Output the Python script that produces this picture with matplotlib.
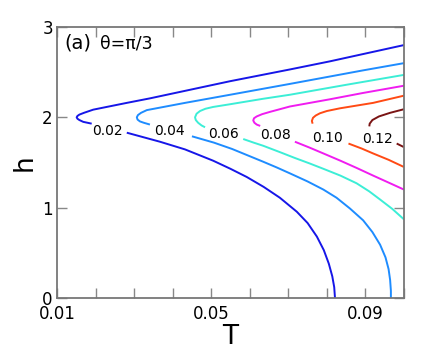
import matplotlib
matplotlib.use('Agg')
import matplotlib.pyplot as plt

# contour levels and colours
levels = ['0.02', '0.04', '0.06', '0.08', '0.10', '0.12']
colors = {'0.02': '#1616e8', '0.04': '#1e8cff', '0.06': '#3ceed6',
          '0.08': '#f01cf0', '0.10': '#ff4a14', '0.12': '#7a1414'}

# part a: from right end of upper branch, round the nose, to the label gap
T_a = {
    '0.02': [0.100, 0.0808, 0.0704, 0.0549, 0.0445, 0.0341, 0.0281, 0.0194, 0.0170, 0.0158, 0.0153, 0.0151,
             0.0153, 0.0158, 0.0168, 0.0190],
    '0.04': [0.100, 0.0894, 0.0704, 0.0549, 0.0432, 0.0333, 0.0318, 0.0310, 0.0307, 0.0309, 0.0315, 0.0325, 0.0341],
    '0.06': [0.100, 0.0850, 0.0704, 0.0634, 0.0549, 0.0505, 0.0485, 0.0471, 0.0462, 0.0458, 0.0460, 0.0466,
             0.0475, 0.0484],
    '0.08': [0.100, 0.0894, 0.0808, 0.0704, 0.0652, 0.0632, 0.0618, 0.0611, 0.0609, 0.0612, 0.0618, 0.0627],
    '0.10': [0.100, 0.0920, 0.0834, 0.0800, 0.0782, 0.0771, 0.0764, 0.0761, 0.0763],
    '0.12': [0.100, 0.0964, 0.0935, 0.0918, 0.0911, 0.0910],
}
h_a = {
    '0.02': [2.80, 2.62, 2.53, 2.40, 2.305, 2.21, 2.16, 2.085, 2.05, 2.03, 2.015, 2.00,
             1.985, 1.97, 1.95, 1.93],
    '0.04': [2.60, 2.52, 2.37, 2.25, 2.16, 2.08, 2.05, 2.025, 2.00, 1.975, 1.955, 1.94, 1.92],
    '0.06': [2.47, 2.36, 2.25, 2.205, 2.145, 2.115, 2.095, 2.07, 2.04, 2.00, 1.97, 1.94,
             1.91, 1.89],
    '0.08': [2.35, 2.27, 2.20, 2.12, 2.06, 2.035, 2.01, 1.99, 1.965, 1.94, 1.92, 1.905],
    '0.10': [2.24, 2.16, 2.10, 2.07, 2.045, 2.02, 1.995, 1.96, 1.93],
    '0.12': [2.09, 2.05, 2.01, 1.97, 1.93, 1.90],
}
# part b: lower branch after the label
T_b = {
    '0.02': [0.0281, 0.0324, 0.0367, 0.0432, 0.0505, 0.0550, 0.0592, 0.0636, 0.0678, 0.0722, 0.0750,
             0.0774, 0.0792, 0.0805, 0.0814, 0.0819, 0.0821],
    '0.04': [0.0450, 0.0507, 0.0554, 0.0594, 0.0634, 0.0670, 0.0704, 0.0750, 0.0791, 0.0825, 0.0860,
             0.0894, 0.0918, 0.0938, 0.0952, 0.0960, 0.0964, 0.0966, 0.0966],
    '0.06': [0.0583, 0.0610, 0.0635, 0.0678, 0.0717, 0.0755, 0.0791, 0.0835, 0.0877, 0.0910, 0.0938,
             0.0970, 0.100],
    '0.08': [0.0717, 0.0755, 0.0791, 0.0835, 0.0877, 0.0920, 0.0964, 0.100],
    '0.10': [0.0856, 0.0890, 0.0920, 0.0960, 0.100],
    '0.12': [0.0981, 0.100],
}
h_b = {
    '0.02': [1.83, 1.78, 1.73, 1.645, 1.52, 1.43, 1.34, 1.23, 1.11, 0.955, 0.83,
             0.68, 0.53, 0.38, 0.24, 0.12, 0.0],
    '0.04': [1.79, 1.72, 1.65, 1.58, 1.51, 1.445, 1.38, 1.29, 1.20, 1.11, 0.99,
             0.86, 0.73, 0.59, 0.45, 0.32, 0.20, 0.08, 0.0],
    '0.06': [1.76, 1.72, 1.685, 1.615, 1.55, 1.49, 1.43, 1.355, 1.27, 1.18, 1.09,
             0.985, 0.87],
    '0.08': [1.73, 1.665, 1.60, 1.52, 1.44, 1.355, 1.27, 1.20],
    '0.10': [1.71, 1.655, 1.60, 1.53, 1.45],
    '0.12': [1.71, 1.67],
}
# label positions (centre in T, baseline in h)
label_T = {'0.02': 0.0231, '0.04': 0.0392, '0.06': 0.0533, '0.08': 0.0668, '0.10': 0.0802, '0.12': 0.0930}
label_h = {'0.02': 1.804, '0.04': 1.804, '0.06': 1.771, '0.08': 1.760, '0.10': 1.727, '0.12': 1.716}

xticks = [0.01, 0.02, 0.03, 0.04, 0.05, 0.06, 0.07, 0.08, 0.09, 0.10]
xticklabels = ['0.01', '', '', '', '0.05', '', '', '', '0.09', '']
yticks = [0, 1, 2, 3]

fig = plt.figure(figsize=(4.36, 3.53), dpi=100)
ax = fig.add_axes([57/436, 55/353, 347/436, 271/353])

for lev in levels:
    ax.plot(T_a[lev], h_a[lev], '-', color=colors[lev], lw=1.4, solid_capstyle='butt', solid_joinstyle='round')
    ax.plot(T_b[lev], h_b[lev], '-', color=colors[lev], lw=1.4, solid_capstyle='butt', solid_joinstyle='round')
    ax.text(label_T[lev], label_h[lev], lev, ha='center', va='baseline', fontsize=10, color='black')

ax.set_xlim(0.01, 0.1)
ax.set_ylim(0, 3)
ax.set_xticks(xticks)
ax.set_xticklabels(xticklabels)
ax.set_yticks(yticks)
ax.tick_params(direction='in', length=7, width=1, color='#888888', top=True, right=True, labelsize=12)
ax.tick_params(axis='x', pad=5)
ax.tick_params(axis='y', pad=3)
for s in ax.spines.values():
    s.set_color('#777777')
    s.set_linewidth(1.3)

ax.set_xlabel('T', fontsize=19, labelpad=1)
ax.set_ylabel('h', fontsize=19, labelpad=3)

ax.text(0.012, 2.82, '(a)', fontsize=14, va='center')
ax.text(0.0211, 2.82, 'θ=π/3', fontsize=12.5, va='center')

fig.savefig('out.png', dpi=100)
